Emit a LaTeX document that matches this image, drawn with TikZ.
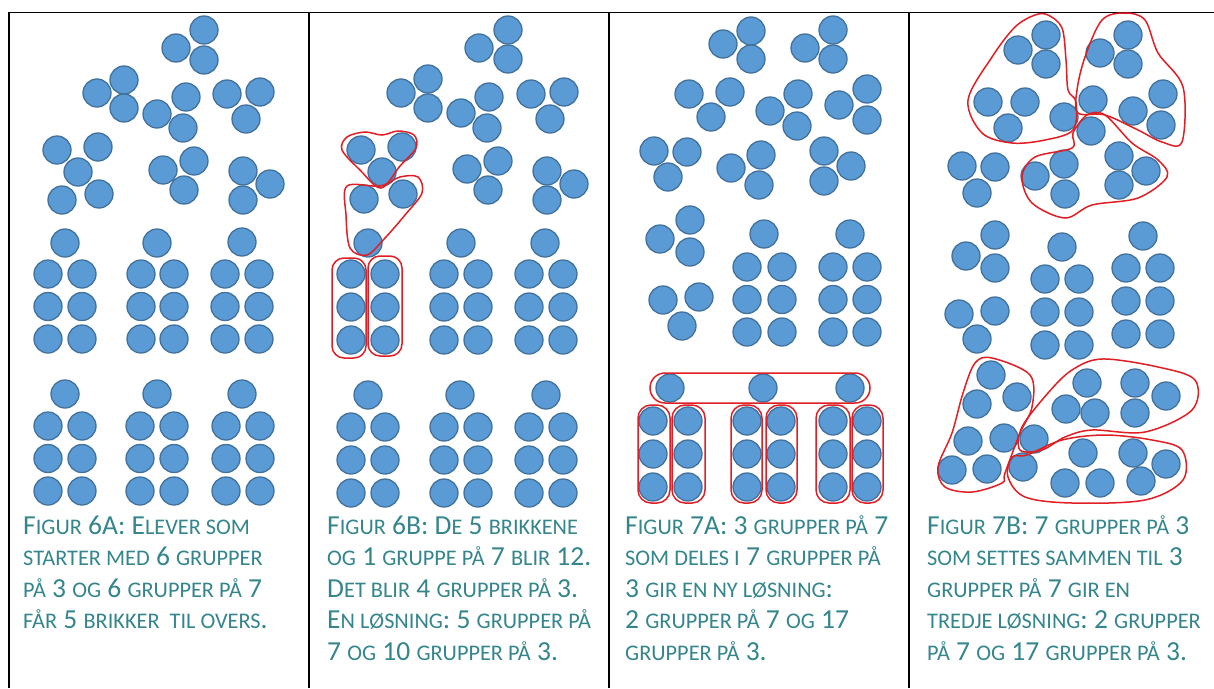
\documentclass[tikz,border=0pt]{standalone}
\usepackage{fontspec}
\setmainfont{Carlito}
\definecolor{brickfill}{RGB}{91,155,213}
\definecolor{brickline}{RGB}{65,113,156}
\definecolor{captxt}{RGB}{52,134,140}
\definecolor{penred}{RGB}{224,30,36}
\newcommand\smc[1]{{\fontsize{22.3}{22.3}\selectfont #1}}
\tikzset{
  brick/.style={fill=brickfill,draw=brickline,line width=1.3pt},
  pen/.style={draw=penred,line width=1.5pt},
  rule/.style={draw=black,line width=2pt},
  capline/.style={anchor=base west,inner sep=0pt,text=captxt,font=\fontsize{27.5}{31}\selectfont},
}
\begin{document}
\begin{tikzpicture}[x=1pt,y=-1pt]
\useasboundingbox (0,0) rectangle (1214,688);
\fill[white] (0,0) rectangle (1214,688);
% table rules
\draw[black,line width=1pt] (9,12) -- (1214,12);
\foreach \xx in {9,309,609,909} \draw[rule] (\xx,12) -- (\xx,688);
% ---------- panel 1 ----------
\foreach \p in {(204,30),(176,48),(204,60),(124,80),(97,93),(124,108),(186,97),(157,114),(183,128),(227,94),(260,92),(246,119),(57,150),(98,147),(78,172),(62,200),(99,194),(163,170),(194,161),(184,190),(243,171),(270,184),(243,200)}
  \draw[brick] \p circle (14);
\foreach \tx/\ca/\cb/\ty/\ra in {65/48/82/243/274,157/141/174/243/274,242/225/259/242/274,65/48/82/394/426,157/140/174/394/426,242/226/260/394/426}{
  \draw[brick] (\tx,\ty) circle (14);
  \foreach \k in {0,1,2}{
    \draw[brick] (\ca,\ra+32.5*\k) circle (14);
    \draw[brick] (\cb,\ra+32.5*\k) circle (14);}}
% ---------- panel 2 ----------
\foreach \p in {(508,30),(479,48),(508,59),(428,79),(401,93),(428,108),(489,97),(461,113),(487,128),(531,94),(564,92),(550,119),(361,150),(402,147),(382,172),(364,199),(403,194),(467,169),(498,161),(488,190),(547,171),(574,184),(547,200)}
  \draw[brick] \p circle (14);
\foreach \tx/\ca/\cb/\ty/\ra in {368/351/385/243/274,461/444/478/243/274,545/529/563/243/274,368/351/385/395/427,460/444/478/395/427,546/529/563/395/427}{
  \draw[brick] (\tx,\ty) circle (14);
  \foreach \k in {0,1,2}{
    \draw[brick] (\ca,\ra+33*\k) circle (14);
    \draw[brick] (\cb,\ra+33*\k) circle (14);}}
\draw[pen] plot[smooth cycle,tension=0.55] coordinates {(342,150) (347,137) (365,132) (382,135) (398,131) (414,135) (416,148) (400,166) (381,188) (360,170)};
\draw[pen] plot[smooth cycle,tension=0.55] coordinates {(380,186) (400,177) (418,177) (422,193) (405,215) (385,238) (367,255) (350,248) (346,215) (347,186)};
\draw[pen,rounded corners=12] (332,258) rectangle (366,358);
\draw[pen,rounded corners=12] (368,256) rectangle (402,356);
% ---------- panel 3 ----------
\foreach \p in {(751,31),(723,44),(751,59),(833,30),(805,48),(833,59),(689,94),(730,92),(711,117),(798,94),(770,111),(797,126),(839,105),(867,89),(867,120),(654,151),(687,152),(668,177),(731,168),(761,155),(759,185),(824,151),(851,166),(824,181),(690,220),(660,239),(690,252),(663,300),(699,297),(682,326)}
  \draw[brick] \p circle (14);
\foreach \tx/\ca/\cb in {764/747/782,850/833/867}{
  \draw[brick] (\tx,234) circle (14);
  \foreach \k in {0,1,2}{
    \draw[brick] (\ca,267+32.5*\k) circle (14);
    \draw[brick] (\cb,267+32.5*\k) circle (14);}}
\foreach \xx in {670,763,850} \draw[brick] (\xx,388) circle (14);
\foreach \xx in {653,688,747,781,833,867}
  \foreach \yy in {421,454,487} \draw[brick] (\xx,\yy) circle (14);
\draw[pen,rounded corners=15] (650,373) rectangle (870,403);
\foreach \xa/\xb in {638/670,672/705,731/762,766/797,816/850,852/883}
  \draw[pen,rounded corners=13] (\xa,405) rectangle (\xb,503);
% ---------- panel 4 ----------
\foreach \p in {(1046,35),(1018,50),(1046,64),(1128,35),(1100,53),(1128,64),(988,102),(1025,102),(1008,128),(1064,117),(1093,100),(1091,131),(1133,111),(1163,94),(1161,125),(962,166),(995,167),(977,193),(1035,176),(1064,164),(1065,194),(1119,156),(1146,171),(1119,185),(995,235),(966,256),(995,268),(959,314),(995,311),(977,339)}
  \draw[brick] \p circle (14);
\foreach \tx/\ca/\cb/\ty/\ra in {1062/1045/1079/247/279,1143/1126/1160/236/268}{
  \draw[brick] (\tx,\ty) circle (14);
  \foreach \k in {0,1,2}{
    \draw[brick] (\ca,\ra+33*\k) circle (14);
    \draw[brick] (\cb,\ra+33*\k) circle (14);}}
\foreach \p in {(991,375),(1017,397),(977,404),(968,441),(1004,438),(952,470),(987,469),(1034,439),(1023,467),(1087,383),(1066,409),(1095,413),(1135,383),(1166,396),(1135,413),(1083,453),(1065,483),(1100,483),(1133,453),(1166,464),(1141,481)}
  \draw[brick] \p circle (14);
\draw[pen] plot[smooth cycle,tension=0.55] coordinates {(1048,15) (1062,28) (1066,60) (1068,90) (1076,102) (1073,130) (1045,140) (1012,143) (982,133) (968,100) (992,57) (1015,27) (1035,15)};
\draw[pen] plot[smooth cycle,tension=0.55] coordinates {(1125,13) (1145,20) (1158,53) (1183,87) (1182,142) (1162,142) (1138,130) (1105,115) (1078,113) (1077,90) (1085,57) (1102,20)};
\draw[pen] plot[smooth cycle,tension=0.55] coordinates {(1073,133) (1072,148) (1035,157) (1022,177) (1032,203) (1065,218) (1092,205) (1138,198) (1167,177) (1158,160) (1132,143) (1105,115) (1087,115)};
\draw[pen] plot[smooth cycle,tension=0.55] coordinates {(992,358) (1030,375) (1032,407) (1020,433) (1005,473) (1002,483) (972,492) (945,487) (938,467) (952,433) (963,393) (975,363)};
\draw[pen] plot[smooth cycle,tension=0.55] coordinates {(1102,359) (1158,367) (1195,380) (1192,410) (1145,432) (1092,430) (1065,437) (1042,450) (1020,450) (1022,427) (1048,393) (1072,370)};
\draw[pen] plot[smooth cycle,tension=0.55] coordinates {(1027,455) (1062,440) (1105,435) (1152,440) (1182,450) (1183,480) (1145,500) (1072,503) (1025,497) (1008,477) (1012,457)};
% ---------- captions ----------
\node[capline] (a1) at (23,534) {F\smc{IGUR} 6A: E\smc{LEVER SOM}};
\node[capline] (a2) at (23,565.5) {\smc{STARTER MED} 6 \smc{GRUPPER}};
\node[capline] (a3) at (23,597) {\smc{PÅ} 3 \smc{OG} 6 \smc{GRUPPER PÅ} 7};
\node[capline] (a4) at (23,628.5) {\smc{FÅR} 5 \smc{BRIKKER\ \ TIL OVERS}.};
\node[capline] (b1) at (327,534) {F\smc{IGUR} 6B: D\smc{E} 5 \smc{BRIKKENE}};
\node[capline] (b2) at (327,565.5) {\smc{OG} 1 \smc{GRUPPE PÅ} 7 \smc{BLIR} 12.};
\node[capline] (b3) at (327,597) {D\smc{ET BLIR} 4 \smc{GRUPPER PÅ} 3.};
\node[capline] (b4) at (327,628.5) {E\smc{N LØSNING}: 5 \smc{GRUPPER PÅ}};
\node[capline] (b5) at (327,660) {7 \smc{OG} 10 \smc{GRUPPER PÅ} 3.};
\node[capline] (c1) at (625,534) {F\smc{IGUR} 7A: 3 \smc{GRUPPER PÅ} 7};
\node[capline] (c2) at (625,565.5) {\smc{SOM DELES I} 7 \smc{GRUPPER PÅ}};
\node[capline] (c3) at (625,597) {3 \smc{GIR EN NY LØSNING}:};
\node[capline] (c4) at (625,628.5) {2 \smc{GRUPPER PÅ} 7 \smc{OG} 17};
\node[capline] (c5) at (625,660) {\smc{GRUPPER PÅ} 3.};
\node[capline] (d1) at (927,534) {F\smc{IGUR} 7B: 7 \smc{GRUPPER PÅ} 3};
\node[capline] (d2) at (927,565.5) {\smc{SOM SETTES SAMMEN TIL} 3};
\node[capline] (d3) at (927,597) {\smc{GRUPPER PÅ} 7 \smc{GIR EN}};
\node[capline] (d4) at (927,628.5) {\smc{TREDJE LØSNING}: 2 \smc{GRUPPER}};
\node[capline] (d5) at (927,660) {\smc{PÅ} 7 \smc{OG} 17 \smc{GRUPPER PÅ} 3.};
\end{tikzpicture}
\end{document}
